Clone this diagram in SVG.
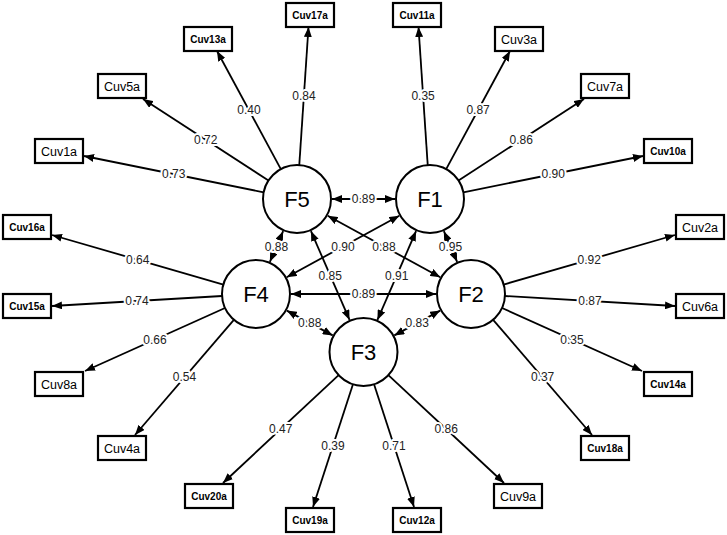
<svg xmlns="http://www.w3.org/2000/svg" width="727" height="535" viewBox="0 0 727 535">
<style>
.bg{fill:#ffffff}
.fac circle{fill:#ffffff;stroke:#000;stroke-width:2}
.fac text{font-family:"Liberation Sans",Arial,sans-serif;font-size:22px;fill:#000;text-anchor:middle}
.ind rect{fill:#ffffff;stroke:#000;stroke-width:2.2}
.ind text{font-family:"Liberation Sans",Arial,sans-serif;fill:#000;text-anchor:middle}
.s1{font-size:12.5px}
.s2{font-size:10px;font-weight:bold}
.c line{stroke:#000;stroke-width:1.8;fill:none}
.a{marker-end:url(#ah)}
.d{marker-start:url(#ah);marker-end:url(#ah)}
.c text{font-family:"Liberation Sans",Arial,sans-serif;font-size:12px;fill:#222;text-anchor:middle;stroke:#fff;stroke-width:4;paint-order:stroke;stroke-linejoin:round}
</style>
<defs>
<marker id="ah" markerUnits="userSpaceOnUse" markerWidth="10" markerHeight="8" refX="10" refY="4" orient="auto-start-reverse">
<path d="M0,0 L10,4 L0,8 z" fill="#000"/>
</marker>
</defs>
<rect class="bg" x="0" y="0" width="727" height="535"/>
<g id="connectors" class="c">
<!-- F5 indicators -->
<line class="a" x1="299.27" y1="165.08" x2="308.5" y2="27"/>
<line class="a" x1="280.83" y1="169.09" x2="217" y2="51"/>
<line class="a" x1="268.48" y1="180.48" x2="143" y2="99"/>
<line class="a" x1="263.67" y1="192.27" x2="84" y2="156"/>
<!-- F1 indicators -->
<line class="a" x1="427.73" y1="165.08" x2="418.5" y2="27"/>
<line class="a" x1="446.17" y1="169.09" x2="510" y2="51"/>
<line class="a" x1="458.52" y1="180.48" x2="584" y2="99"/>
<line class="a" x1="463.33" y1="192.27" x2="643" y2="156"/>
<!-- F4 indicators -->
<line class="a" x1="223.34" y1="284.55" x2="52" y2="235"/>
<line class="a" x1="222.06" y1="296" x2="52" y2="306"/>
<line class="a" x1="225" y1="307.96" x2="85" y2="371"/>
<line class="a" x1="233.86" y1="319.8" x2="135" y2="435"/>
<!-- F2 indicators -->
<line class="a" x1="503.66" y1="284.55" x2="675" y2="235"/>
<line class="a" x1="504.94" y1="296" x2="675" y2="306"/>
<line class="a" x1="502" y1="307.96" x2="642" y2="371"/>
<line class="a" x1="493.14" y1="319.8" x2="592" y2="435"/>
<!-- F3 indicators -->
<line class="a" x1="338.63" y1="375.19" x2="223" y2="483"/>
<line class="a" x1="352.97" y1="384.33" x2="313" y2="507"/>
<line class="a" x1="374.03" y1="384.33" x2="414" y2="507"/>
<line class="a" x1="388.37" y1="375.19" x2="504" y2="483"/>
<!-- factor correlations -->
<line class="d" x1="332" y1="199" x2="395" y2="199"/>
<line class="d" x1="291" y1="294" x2="436" y2="294"/>
<line class="d" x1="283.13" y1="231.13" x2="269.87" y2="261.87"/>
<line class="d" x1="443.87" y1="231.13" x2="457.13" y2="261.87"/>
<line class="d" x1="286.8" y1="310.62" x2="332.7" y2="335.38"/>
<line class="d" x1="440.2" y1="310.62" x2="394.3" y2="335.38"/>
<line class="d" x1="310.95" y1="231.1" x2="349.55" y2="319.9"/>
<line class="d" x1="416.05" y1="231.1" x2="377.45" y2="319.9"/>
<line class="d" x1="327.72" y1="215.77" x2="440.28" y2="277.23"/>
<line class="d" x1="399.28" y1="215.77" x2="286.72" y2="277.23"/>
<!-- loading labels -->
<text x="303.9" y="100">0.84</text>
<text x="248.9" y="114">0.40</text>
<text x="205.7" y="143.7">0.72</text>
<text x="173.8" y="178.1">0.73</text>
<text x="423.1" y="100">0.35</text>
<text x="478.1" y="114">0.87</text>
<text x="521.3" y="143.7">0.86</text>
<text x="553.2" y="178.1">0.90</text>
<text x="137.7" y="263.8">0.64</text>
<text x="137" y="305">0.74</text>
<text x="155" y="343.5">0.66</text>
<text x="184.4" y="381.4">0.54</text>
<text x="589.3" y="263.8">0.92</text>
<text x="590" y="305">0.87</text>
<text x="572" y="343.5">0.35</text>
<text x="542.6" y="381.4">0.37</text>
<text x="280.8" y="433.1">0.47</text>
<text x="333" y="449.7">0.39</text>
<text x="394" y="449.7">0.71</text>
<text x="446.2" y="433.1">0.86</text>
<!-- correlation labels -->
<text x="363.5" y="203">0.89</text>
<text x="363.5" y="298">0.89</text>
<text x="276.5" y="250.5">0.88</text>
<text x="450.5" y="250.5">0.95</text>
<text x="309.75" y="327">0.88</text>
<text x="417.25" y="327">0.83</text>
<text x="330.25" y="279.5">0.85</text>
<text x="396.75" y="279.5">0.91</text>
<text x="384" y="250.5">0.88</text>
<text x="343" y="250.5">0.90</text>
</g>
<g id="F5" class="fac"><circle cx="297" cy="199" r="34"/><text x="297" y="207">F5</text></g>
<g id="F1" class="fac"><circle cx="430" cy="199" r="34"/><text x="430" y="207">F1</text></g>
<g id="F4" class="fac"><circle cx="256" cy="294" r="34"/><text x="256" y="302">F4</text></g>
<g id="F2" class="fac"><circle cx="471" cy="294" r="34"/><text x="471" y="302">F2</text></g>
<g id="F3" class="fac"><circle cx="363.5" cy="352" r="34"/><text x="363.5" y="360">F3</text></g>
<g id="Cuv17a" class="ind"><rect x="286" y="3" width="48" height="24"/><text class="s2" x="310" y="18.5">Cuv17a</text></g>
<g id="Cuv13a" class="ind"><rect x="184" y="27" width="48" height="24"/><text class="s2" x="208" y="42.5">Cuv13a</text></g>
<g id="Cuv5a" class="ind"><rect x="98" y="74" width="48" height="24"/><text class="s1" x="122" y="90.5">Cuv5a</text></g>
<g id="Cuv1a" class="ind"><rect x="35" y="139" width="48" height="24"/><text class="s1" x="59" y="155.5">Cuv1a</text></g>
<g id="Cuv11a" class="ind"><rect x="393" y="3" width="48" height="24"/><text class="s2" x="417" y="18.5">Cuv11a</text></g>
<g id="Cuv3a" class="ind"><rect x="495" y="27" width="48" height="24"/><text class="s1" x="519" y="43.5">Cuv3a</text></g>
<g id="Cuv7a" class="ind"><rect x="581" y="74" width="48" height="24"/><text class="s1" x="605" y="90.5">Cuv7a</text></g>
<g id="Cuv10a" class="ind"><rect x="644" y="139" width="48" height="24"/><text class="s2" x="668" y="154.5">Cuv10a</text></g>
<g id="Cuv16a" class="ind"><rect x="3" y="215" width="48" height="24"/><text class="s2" x="27" y="230.5">Cuv16a</text></g>
<g id="Cuv15a" class="ind"><rect x="3" y="294" width="48" height="24"/><text class="s2" x="27" y="309.5">Cuv15a</text></g>
<g id="Cuv8a" class="ind"><rect x="35" y="372" width="48" height="24"/><text class="s1" x="59" y="388.5">Cuv8a</text></g>
<g id="Cuv4a" class="ind"><rect x="98" y="436" width="48" height="24"/><text class="s1" x="122" y="452.5">Cuv4a</text></g>
<g id="Cuv2a" class="ind"><rect x="676" y="215" width="48" height="24"/><text class="s1" x="700" y="231.5">Cuv2a</text></g>
<g id="Cuv6a" class="ind"><rect x="676" y="294" width="48" height="24"/><text class="s1" x="700" y="310.5">Cuv6a</text></g>
<g id="Cuv14a" class="ind"><rect x="644" y="372" width="48" height="24"/><text class="s2" x="668" y="387.5">Cuv14a</text></g>
<g id="Cuv18a" class="ind"><rect x="581" y="436" width="48" height="24"/><text class="s2" x="605" y="451.5">Cuv18a</text></g>
<g id="Cuv20a" class="ind"><rect x="185" y="484" width="48" height="24"/><text class="s2" x="209" y="499.5">Cuv20a</text></g>
<g id="Cuv19a" class="ind"><rect x="286" y="508" width="48" height="24"/><text class="s2" x="310" y="523.5">Cuv19a</text></g>
<g id="Cuv12a" class="ind"><rect x="393" y="508" width="48" height="24"/><text class="s2" x="417" y="523.5">Cuv12a</text></g>
<g id="Cuv9a" class="ind"><rect x="494" y="484" width="48" height="24"/><text class="s1" x="518" y="500.5">Cuv9a</text></g>
</svg>
